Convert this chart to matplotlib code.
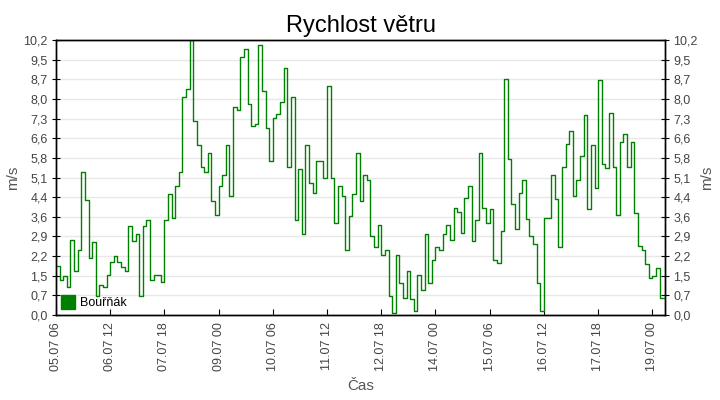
import numpy as np
import pandas as pd
import matplotlib
matplotlib.use('Agg')
import matplotlib.pyplot as plt
import matplotlib.dates as mdates
from matplotlib.ticker import FixedLocator, FuncFormatter
from matplotlib.lines import Line2D

plt.rcParams['font.family'] = ['Liberation Sans', 'DejaVu Sans']

# wind speed [m/s], one value every 2 hours from 05.07 06:00
station = 'Bouřňák'
start = '2021-07-05 06:00'
step_hours = 2
speed = [
    1.82, 1.3, 1.45, 1.05, 2.8, 1.64, 2.4, 5.3, 4.27, 2.1,
    2.72, 0.7, 1.11, 1.05, 1.5, 1.95, 2.19, 1.95, 1.77, 1.64,
    3.31, 2.74, 3.0, 0.7, 3.3, 3.52, 1.3, 1.5, 1.5, 1.21,
    3.52, 4.5, 3.6, 4.8, 5.3, 8.1, 8.4, 10.2, 7.2, 6.3,
    5.5, 5.3, 6.0, 4.23, 3.7, 4.8, 5.2, 6.3, 4.4, 7.7,
    7.6, 9.58, 9.85, 7.81, 7.0, 7.1, 10.0, 8.3, 6.95, 5.7,
    7.3, 7.44, 7.9, 9.17, 5.5, 8.1, 3.52, 5.4, 3.0, 6.3,
    4.9, 4.54, 5.7, 5.7, 5.1, 8.5, 5.1, 3.4, 4.78, 4.4,
    2.4, 3.67, 4.5, 6.0, 4.23, 5.2, 5.0, 2.93, 2.53, 3.33,
    2.21, 2.4, 0.7, 0.09, 2.21, 1.2, 0.64, 1.63, 0.6, 0.15,
    1.5, 0.93, 3.0, 1.2, 2.04, 2.52, 2.4, 3.0, 3.33, 2.8,
    3.98, 3.82, 3.03, 4.33, 4.8, 2.74, 3.52, 6.0, 3.98, 3.42,
    3.92, 2.04, 1.94, 3.1, 8.77, 5.77, 4.1, 3.2, 4.54, 5.0,
    3.55, 2.93, 2.62, 1.2, 0.15, 3.6, 3.6, 5.2, 4.29, 2.52,
    5.5, 6.33, 6.81, 4.41, 5.0, 5.9, 7.4, 3.92, 6.3, 4.71,
    8.72, 5.6, 5.46, 7.48, 5.5, 3.7, 6.4, 6.7, 5.5, 6.42,
    3.8, 2.56, 2.4, 1.9, 1.38, 1.45, 1.73, 0.62, 0.62,
]
y_max = 10.2
n_yticks = 15
tick_every_hours = 30

times = pd.date_range(start, periods=len(speed) + 1, freq=f'{step_hours}h')
vals = speed + [speed[-1]]

fig = plt.figure(figsize=(7.2, 4.0), dpi=100)
ax = fig.add_axes([56 / 720, 85 / 400, 609 / 720, 275 / 400])

ax.step(times, vals, where='post', color='#008000', lw=1.0, zorder=3)

ax.set_xlim(times[0], times[-1] - pd.Timedelta(hours=1))
ax.set_ylim(0, y_max)

yt = np.linspace(0, y_max, n_yticks)
fmt = FuncFormatter(lambda v, p: f'{v:.1f}'.replace('.', ','))
ax.yaxis.set_major_locator(FixedLocator(yt))
ax.yaxis.set_major_formatter(fmt)
ax.grid(axis='y', color='#e8e8e8', lw=1.0, zorder=0)
ax.set_axisbelow(True)

xt = pd.date_range(start, times[-1], freq=f'{tick_every_hours}h')
ax.set_xticks(xt)
ax.xaxis.set_major_formatter(mdates.DateFormatter('%d.%m %H'))
ax.tick_params(axis='x', direction='in', length=4, labelrotation=90,
               labelsize=9, labelcolor='#444444', pad=5)
ax.tick_params(axis='y', direction='inout', length=6, labelsize=9,
               labelcolor='#444444', pad=3)

ax2 = ax.twinx()
ax2.set_ylim(0, y_max)
ax2.yaxis.set_major_locator(FixedLocator(yt))
ax2.yaxis.set_major_formatter(fmt)
ax2.tick_params(axis='y', direction='inout', length=6, labelsize=9,
                labelcolor='#444444', pad=3)

for a in (ax, ax2):
    for s in a.spines.values():
        s.set_color('black')
        s.set_linewidth(1.0)

ax.set_ylabel('m/s', fontsize=11, color='#555555', labelpad=2)
ax2.set_ylabel('m/s', fontsize=11, color='#555555', labelpad=2)
ax.set_xlabel('Čas', fontsize=11, color='#555555', labelpad=6)
ax.set_title('Rychlost větru', fontsize=17, color='black', pad=6)

handle = Line2D([], [], marker='s', color='#008000', ls='none', markersize=10)
ax.legend([handle], [station], loc='lower left', frameon=False, fontsize=9,
          handlelength=1.0, handletextpad=0.5, borderaxespad=0.15,
          borderpad=0.3, bbox_to_anchor=(0.0, 0.0))

fig.savefig('out.png', dpi=100)
